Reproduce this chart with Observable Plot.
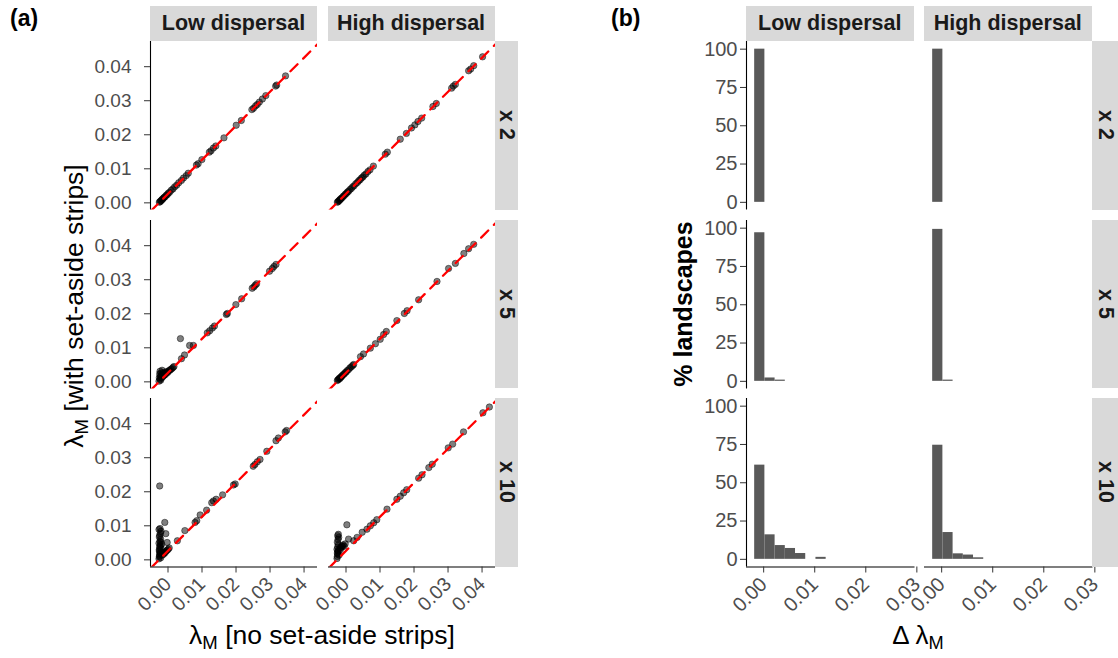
<!DOCTYPE html>
<html><head><meta charset="utf-8">
<script src="https://cdn.jsdelivr.net/npm/d3@7"></script>
<script src="https://cdn.jsdelivr.net/npm/@observablehq/plot@0.6"></script>
<style>
body{margin:0;background:#fff;font-family:"Liberation Sans",Arial,sans-serif;}
#root{position:relative;width:1118px;height:658px;overflow:hidden;background:#fff;}
.strip{position:absolute;background:#d9d9d9;color:#1a1a1a;font-weight:bold;font-size:21.5px;display:flex;align-items:center;justify-content:center;white-space:nowrap;overflow:hidden;}
.vstrip{writing-mode:vertical-rl;}
.lbl{position:absolute;white-space:nowrap;color:#000;}
.sub{font-size:0.7em;vertical-align:-0.3em;}
</style></head><body><div id="root"></div>
<script>
// ---------- data ----------
const dispersal = ["Low dispersal", "High dispersal"];
const multipliers = ["x 2", "x 5", "x 10"];
const lambdaTicks = [0, 0.01, 0.02, 0.03, 0.04];
const deltaTicks = [0, 0.01, 0.02, 0.03];
const pctTicks = [0, 25, 50, 75, 100];

// (a) scatter: lambda_M without (x) vs with (y) set-aside strips
const lowX2_x = [0.0001,0.0003,0.0005,0.0007,0.0009,0.0011,0.0013,0.0015,0.0018,0.0021,0.0024,0.0027,0.0031,0.0036,0.0041,0.0046,0.0052,0.0058,0.0066,0.0072,0.0080,0.0086,0.0110,0.0115,0.0126,0.0148,0.0153,0.0160,0.0167,0.0191,0.0227,0.0242,0.0273,0.0278,0.0284,0.0289,0.0295,0.0304,0.0314,0.0343,0.0346,0.0372];
const lowX2_y = [0.0002,0.0003,0.0006,0.0007,0.0010,0.0011,0.0014,0.0016,0.0018,0.0022,0.0024,0.0028,0.0031,0.0037,0.0041,0.0047,0.0052,0.0059,0.0066,0.0073,0.0080,0.0087,0.0111,0.0115,0.0127,0.0149,0.0153,0.0161,0.0167,0.0191,0.0228,0.0242,0.0274,0.0278,0.0285,0.0289,0.0296,0.0305,0.0315,0.0343,0.0346,0.0373];
const highX2_x = [0.0001,0.0003,0.0005,0.0007,0.0009,0.0011,0.0013,0.0016,0.0019,0.0022,0.0025,0.0028,0.0031,0.0034,0.0038,0.0042,0.0046,0.0050,0.0055,0.0060,0.0064,0.0068,0.0072,0.0076,0.0080,0.0085,0.0091,0.0097,0.0107,0.0142,0.0148,0.0186,0.0204,0.0219,0.0229,0.0238,0.0249,0.0282,0.0292,0.0337,0.0342,0.0348,0.0387,0.0393,0.0402,0.0428];
const highX2_y = [0.0002,0.0003,0.0006,0.0007,0.0010,0.0011,0.0014,0.0016,0.0020,0.0022,0.0026,0.0028,0.0032,0.0034,0.0039,0.0042,0.0047,0.0050,0.0056,0.0060,0.0065,0.0068,0.0073,0.0076,0.0081,0.0085,0.0092,0.0097,0.0108,0.0143,0.0149,0.0187,0.0204,0.0220,0.0229,0.0239,0.0249,0.0283,0.0292,0.0337,0.0343,0.0348,0.0388,0.0393,0.0403,0.0429];
const lowX5_x = [0.0000,0.0001,0.0002,0.0003,0.0003,0.0004,0.0005,0.0006,0.0007,0.0008,0.0009,0.0010,0.0011,0.0012,0.0013,0.0015,0.0016,0.0018,0.0020,0.0022,0.0024,0.0026,0.0029,0.0032,0.0035,0.0038,0.0041,0.0044,0.0063,0.0066,0.0075,0.0090,0.0101,0.0142,0.0149,0.0157,0.0163,0.0198,0.0201,0.0226,0.0243,0.0274,0.0279,0.0283,0.0287,0.0325,0.0333,0.0338,0.0344];
const lowX5_y = [0.0002,0.0012,0.0023,0.0008,0.0031,0.0016,0.0005,0.0026,0.0011,0.0019,0.0034,0.0014,0.0022,0.0027,0.0017,0.0020,0.0024,0.0021,0.0029,0.0025,0.0030,0.0028,0.0033,0.0034,0.0037,0.0039,0.0042,0.0045,0.0127,0.0068,0.0079,0.0107,0.0107,0.0144,0.0150,0.0158,0.0164,0.0198,0.0201,0.0227,0.0244,0.0275,0.0279,0.0284,0.0288,0.0325,0.0333,0.0339,0.0345];
const highX5_x = [0.0001,0.0003,0.0005,0.0007,0.0009,0.0011,0.0013,0.0015,0.0018,0.0021,0.0024,0.0027,0.0030,0.0034,0.0038,0.0042,0.0046,0.0049,0.0069,0.0078,0.0098,0.0113,0.0127,0.0137,0.0145,0.0176,0.0198,0.0206,0.0240,0.0294,0.0328,0.0348,0.0373,0.0387,0.0402];
const highX5_y = [0.0004,0.0006,0.0008,0.0011,0.0010,0.0014,0.0015,0.0018,0.0021,0.0023,0.0027,0.0029,0.0033,0.0036,0.0041,0.0044,0.0048,0.0051,0.0074,0.0082,0.0099,0.0112,0.0125,0.0139,0.0148,0.0180,0.0201,0.0209,0.0241,0.0295,0.0333,0.0348,0.0377,0.0391,0.0404];
const lowX10_x = [0.0000,0.0001,0.0002,0.0003,0.0001,0.0002,0.0004,0.0000,0.0003,0.0005,0.0001,0.0002,0.0004,0.0006,0.0000,0.0003,0.0005,0.0002,0.0004,0.0001,0.0006,0.0003,0.0008,0.0005,0.0010,0.0012,0.0014,0.0016,0.0018,0.0021,0.0024,0.0027,0.0030,0.0002,0.0017,0.0020,0.0024,0.0054,0.0076,0.0106,0.0111,0.0121,0.0140,0.0155,0.0160,0.0168,0.0187,0.0219,0.0224,0.0277,0.0282,0.0289,0.0297,0.0317,0.0344,0.0351,0.0371,0.0375];
const lowX10_y = [0.0003,0.0009,0.0016,0.0022,0.0030,0.0036,0.0043,0.0049,0.0055,0.0061,0.0067,0.0072,0.0078,0.0084,0.0089,0.0092,0.0006,0.0012,0.0019,0.0026,0.0033,0.0040,0.0046,0.0052,0.0014,0.0020,0.0017,0.0023,0.0021,0.0026,0.0028,0.0031,0.0035,0.0217,0.0110,0.0077,0.0051,0.0056,0.0086,0.0110,0.0115,0.0132,0.0146,0.0168,0.0173,0.0178,0.0191,0.0220,0.0223,0.0275,0.0280,0.0288,0.0295,0.0319,0.0350,0.0358,0.0376,0.0380];
const highX10_x = [0.0000,0.0001,0.0002,0.0003,0.0000,0.0002,0.0004,0.0001,0.0003,0.0005,0.0002,0.0004,0.0006,0.0001,0.0003,0.0008,0.0010,0.0012,0.0014,0.0016,0.0018,0.0021,0.0024,0.0029,0.0034,0.0049,0.0059,0.0074,0.0088,0.0098,0.0108,0.0117,0.0147,0.0176,0.0186,0.0196,0.0205,0.0240,0.0250,0.0270,0.0280,0.0327,0.0340,0.0372,0.0429,0.0448];
const highX10_y = [0.0004,0.0010,0.0017,0.0024,0.0031,0.0038,0.0045,0.0052,0.0060,0.0066,0.0071,0.0075,0.0014,0.0020,0.0027,0.0034,0.0030,0.0036,0.0041,0.0039,0.0044,0.0040,0.0047,0.0103,0.0061,0.0056,0.0066,0.0081,0.0090,0.0100,0.0109,0.0118,0.0149,0.0178,0.0187,0.0197,0.0206,0.0240,0.0250,0.0271,0.0281,0.0329,0.0340,0.0376,0.0432,0.0449];

// (b) histograms of delta lambda_M: bin starts (width 0.002) and % landscapes
const binStart = [0, 0.002, 0.004, 0.006, 0.008, 0.010, 0.012];
const binWidth = 0.002;
const lowX2_pct  = [100, 0, 0, 0, 0, 0, 0];
const highX2_pct = [100, 0, 0, 0, 0, 0, 0];
const lowX5_pct  = [97, 2.2, 0.8, 0, 0, 0, 0];
const highX5_pct = [99.2, 0.8, 0, 0, 0, 0, 0];
const lowX10_pct  = [61.5, 16, 9, 7.1, 3.8, 0, 1.3];
const highX10_pct = [74.5, 17.5, 3.6, 2.8, 1, 0, 0];

const scatter = [[[lowX2_x, lowX2_y],[highX2_x, highX2_y]],
                 [[lowX5_x, lowX5_y],[highX5_x, highX5_y]],
                 [[lowX10_x, lowX10_y],[highX10_x, highX10_y]]];
const hist = [[lowX2_pct, highX2_pct],[lowX5_pct, highX5_pct],[lowX10_pct, highX10_pct]];

// ---------- layout ----------
const root = document.getElementById("root");
const rowTop = [41, 219.5, 398], rowH = 168.5;
const aColLeft = [150, 327.5], aColW = 167;
const bColLeft = [745.5, 923.5], bColW = 168.5;
const aXDomain = [-0.0025, 0.0466], aYDomain = [-0.0021, 0.0474];
const bXDomain = [-0.0016, 0.0314], bYDomain = [-5, 105];
const ML = 100, MB = 90;
const fmt2 = d3.format(".2f");

function add(el){ root.appendChild(el); return el; }
function div(cls, html, css){ const d=document.createElement("div"); d.className=cls; d.innerHTML=html; Object.assign(d.style, css); return add(d); }

function cell({left, top, w, h, xd, yd, xticks, yticks, xfmt, yfmt, showX, showY, font, xfont, ypad, marks}) {
  const m = [...marks];
  if (showY) {
    m.push(Plot.ruleX([xd[0]], {stroke: "#000", strokeWidth: 1.1}));
    m.push(Plot.axisY(yticks, {tickFormat: yfmt, tickSize: 6, tickPadding: ypad, stroke: "#333", fill: "#4d4d4d", fontSize: font, label: null}));
  }
  if (showX) {
    m.push(Plot.ruleY([yd[0]], {stroke: "#000", strokeWidth: 1.1}));
    m.push(Plot.axisX(xticks, {tickFormat: xfmt, tickSize: 6, tickPadding: 8, tickRotate: -45, dx: 9, stroke: "#333", fill: "#4d4d4d", fontSize: xfont, label: null}));
  }
  const svg = Plot.plot({
    width: w + ML, height: h + MB,
    marginLeft: ML, marginRight: 0, marginTop: 0, marginBottom: MB,
    x: {domain: xd, axis: null},
    y: {domain: yd, axis: null},
    style: {background: "transparent", overflow: "visible", fontFamily: "'Liberation Sans', Arial, sans-serif"},
    marks: m
  });
  svg.style.position = "absolute";
  svg.style.left = (left - ML) + "px";
  svg.style.top = top + "px";
  add(svg);
}

// ---------- panel (a) ----------
for (let r = 0; r < 3; r++) {
  for (let c = 0; c < 2; c++) {
    const [xs, ys] = scatter[r][c];
    const pts = xs.slice(0, Math.min(xs.length, ys.length)).map((x, i) => ({x, y: ys[i]}));
    const diag = aXDomain.map(v => ({x: v, y: v}));
    cell({left: aColLeft[c], top: rowTop[r], w: aColW, h: rowH, xd: aXDomain, yd: aYDomain,
      xticks: lambdaTicks, yticks: lambdaTicks, xfmt: fmt2, yfmt: fmt2,
      showX: r === 2, showY: c === 0, font: 19, xfont: 19.5, ypad: 13,
      marks: [
        Plot.dot(pts, {x: "x", y: "y", r: 3.2, fill: "#000", fillOpacity: 0.5, stroke: "#000", strokeOpacity: 0.5, strokeWidth: 0.9}),
        Plot.line(diag, {x: "x", y: "y", stroke: "#ff0000", strokeWidth: 2.3, strokeDasharray: "10,8", clip: true})
      ]});
  }
}

// ---------- panel (b) ----------
for (let r = 0; r < 3; r++) {
  for (let c = 0; c < 2; c++) {
    const bins = binStart.map((b, i) => ({x1: b, x2: b + binWidth, pct: hist[r][c][i]})).filter(d => d.pct > 0);
    cell({left: bColLeft[c], top: rowTop[r], w: bColW, h: rowH, xd: bXDomain, yd: bYDomain,
      xticks: deltaTicks, yticks: pctTicks, xfmt: fmt2, yfmt: d3.format("d"),
      showX: r === 2, showY: c === 0, font: 20, xfont: 20, ypad: 3,
      marks: [
        Plot.rectY(bins, {x1: "x1", x2: "x2", y: "pct", fill: "#595959", inset: 0})
      ]});
  }
}

// ---------- strips ----------
dispersal.forEach((name, c) => {
  div("strip", name, {left: aColLeft[c] + "px", top: "6px", width: aColW + "px", height: "35px"});
  div("strip", name, {left: bColLeft[c] + "px", top: "6px", width: bColW + "px", height: "35px"});
});
multipliers.forEach((name, r) => {
  div("strip vstrip", name, {left: "494.5px", top: rowTop[r] + "px", width: "23.5px", height: rowH + "px"});
  div("strip vstrip", name, {left: "1092px", top: rowTop[r] + "px", width: "26px", height: rowH + "px"});
});

// ---------- titles ----------
div("lbl", "(a)", {left: "10px", top: "5px", fontSize: "23px", fontWeight: "bold"});
div("lbl", "(b)", {left: "611px", top: "5px", fontSize: "23px", fontWeight: "bold"});
div("lbl", "λ<span class='sub'>M</span> [with set-aside strips]", {left: "76px", top: "306px", fontSize: "26.5px", transform: "translate(-50%,-50%) rotate(-90deg)"});
div("lbl", "λ<span class='sub'>M</span> [no set-aside strips]", {left: "322px", top: "637px", fontSize: "26.5px", transform: "translate(-50%,-50%)"});
div("lbl", "% landscapes", {left: "683px", top: "304px", fontSize: "25px", fontWeight: "bold", transform: "translate(-50%,-50%) rotate(-90deg)"});
div("lbl", "Δ λ<span class='sub'>M</span>", {left: "918px", top: "637px", fontSize: "26px", transform: "translate(-50%,-50%)"});
</script>
</body></html>
